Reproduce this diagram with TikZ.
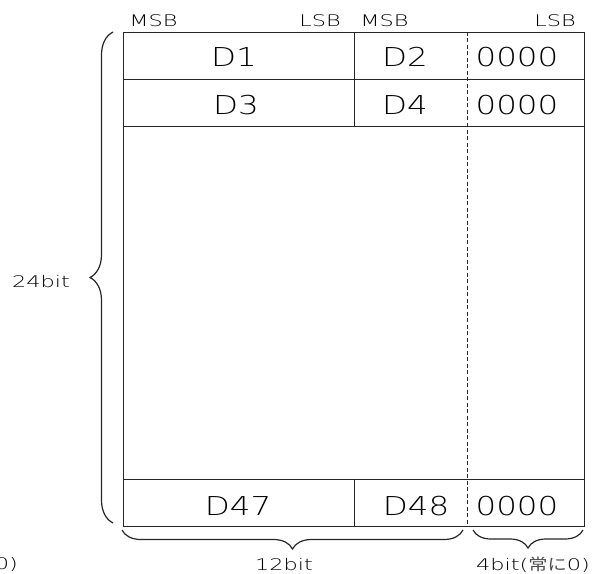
\documentclass[tikz,border=0pt]{standalone}
\usepackage{fontspec}
\setmainfont{DejaVu Sans}
\newfontfamily\smallfont[FakeStretch=1.4]{DejaVu Sans ExtraLight}
\newfontfamily\bigfont[FakeStretch=1.25]{DejaVu Sans ExtraLight}
\newfontfamily\cjkfont[FakeStretch=1.2]{Noto Sans CJK JP}
\usetikzlibrary{decorations.pathreplacing}
\begin{document}
\begin{tikzpicture}[x=1bp,y=-1bp,
  grid/.style={line width=0.9bp, draw=black!85},
  dashline/.style={line width=0.9bp, draw=black!85, dash pattern=on 4bp off 2.5bp},
  lbl/.style={anchor=base, inner sep=0pt, font=\smallfont\fontsize{16bp}{18bp}\selectfont},
  cell/.style={anchor=base, inner sep=0pt, font=\bigfont\fontsize{26bp}{28bp}\selectfont},
  brc/.style={decorate, decoration={brace, amplitude=#1}, line width=1.2bp, draw=black!85}]
\useasboundingbox (0,0) rectangle (600,574);
% table frame
\coordinate (tl) at (123,32);
\coordinate (br) at (584,526);
\draw[grid] (tl) rectangle (br);
\draw[grid] (123,79) -- (584,79);
\draw[grid] (123,126) -- (584,126);
\draw[grid] (123,479) -- (584,479);
\draw[grid] (354,32) -- (354,126);
\draw[grid] (354,479) -- (354,526);
\draw[dashline] (467,32) -- (467,526);
% header labels
\node[lbl] (msb1) at (153.5,27) {MSB};
\node[lbl] (lsb1) at (320,27) {LSB};
\node[lbl] (msb2) at (384.5,27) {MSB};
\node[lbl] (lsb2) at (555,27) {LSB};
% cells
\node[cell] (d1) at (234,67) {D1};
\node[cell] (d2) at (405,67) {D2};
\node[cell] (z1) at (517,67) {0000};
\node[cell] (d3) at (236,115) {D3};
\node[cell] (d4) at (405,115) {D4};
\node[cell] (z2) at (517,115) {0000};
\node[cell] (d47) at (238,515) {D47};
\node[cell] (d48) at (416,515) {D48};
\node[cell] (z3) at (517,515) {0000};
% braces
\coordinate (lb1) at (113,523);
\coordinate (lb2) at (113,32);
\draw[brc=23bp] (lb1) -- (lb2);
\coordinate (bb1) at (463,530);
\coordinate (bb2) at (122,530);
\draw[brc=19bp] (bb1) -- (bb2);
\coordinate (cb1) at (583,530);
\coordinate (cb2) at (473,530);
\draw[brc=18bp] (cb1) -- (cb2);
% brace labels
\node[lbl] (b24) at (41,287) {24bit};
\node[lbl] (b12) at (284,570) {12bit};
\node[lbl] (b4) at (533,570) {4bit({\cjkfont\color{black!70}常に}0)};
\node[lbl, anchor=base east] (cut) at (18,569) {0)};
\end{tikzpicture}
\end{document}
